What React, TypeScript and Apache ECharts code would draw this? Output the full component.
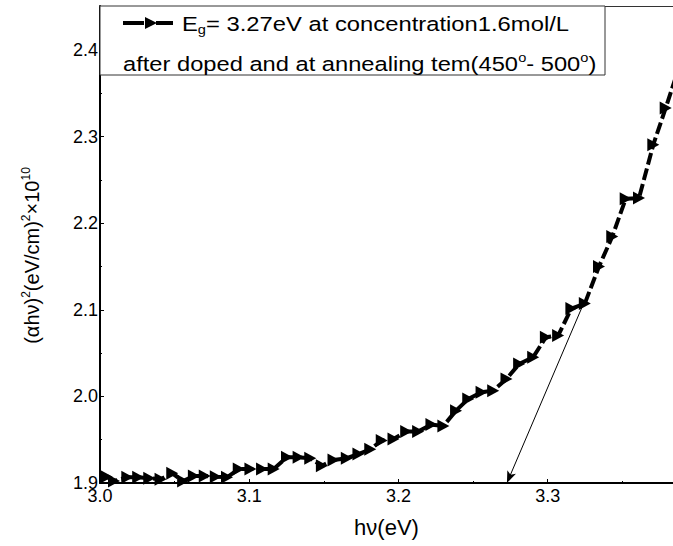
import React, { useEffect, useRef } from "react";
import * as echarts from "echarts";

// photon energy hν (eV)
const hv = [
  3.0045, 3.0094, 3.0183, 3.0256, 3.033, 3.0406, 3.0484, 3.0557, 3.0629, 3.0702,
  3.0776, 3.0851, 3.093, 3.1008, 3.1086, 3.1164, 3.1253, 3.1331, 3.1409, 3.1487,
  3.1565, 3.1654, 3.1732, 3.1811, 3.1888, 3.1967, 3.2052, 3.2132, 3.2221, 3.2301,
  3.2386, 3.2468, 3.2557, 3.2635, 3.2724, 3.2809, 3.2903, 3.2988, 3.307, 3.3159,
  3.3249, 3.3344, 3.3433, 3.3523, 3.3612, 3.3708, 3.3791, 3.3873,
];
// (αhν)^2 ×10^10
const ahv2 = [
  1.9073, 1.9023, 1.9066, 1.9066, 1.9055, 1.9043, 1.9112, 1.9023, 1.9081, 1.9081,
  1.9073, 1.9066, 1.9162, 1.9162, 1.9162, 1.9162, 1.9297, 1.9297, 1.9285, 1.92,
  1.9266, 1.9286, 1.9335, 1.939, 1.9491, 1.9509, 1.9595, 1.9595, 1.9676, 1.9659,
  1.9836, 1.9971, 2.0049, 2.0067, 2.0202, 2.0376, 2.0453, 2.0684, 2.0703, 2.1015,
  2.1073, 2.1501, 2.1847, 2.2283, 2.2291, 2.2908, 2.3332, 2.3763,
];
// tangent arrow (from curve to band-gap intercept)
const arrowStart = [3.3245, 2.109];
const arrowEnd = [3.2727, 1.9];
const bandGap = "3.27";

const FONT = "'Liberation Sans', Arial, sans-serif";

export default function App() {
  const ref = useRef<HTMLDivElement>(null);
  useEffect(() => {
    if (!ref.current) return;
    const chart = echarts.init(ref.current, undefined, { renderer: "svg" });
    const data = hv.map((x, i) => [x, ahv2[i]]);
    const tickFmt = (v: number) =>
      Math.abs(v * 10 - Math.round(v * 10)) < 1e-6 ? v.toFixed(1) : "";
    const supRich = {
      n: { fontSize: 20, fontFamily: FONT, color: "#000", lineHeight: 24 },
      s: { fontSize: 12, fontFamily: FONT, color: "#000", verticalAlign: "top", lineHeight: 24, padding: [0, 0, 8, 0] },
    };
    chart.setOption({
      animation: false,
      backgroundColor: "#fff",
      grid: { left: 100, right: 0, top: 6, bottom: 63, containLabel: false },
      xAxis: [
        {
          type: "value",
          min: 3.0,
          max: 3.384,
          interval: 0.1,
          name: "hν(eV)",
          nameLocation: "middle",
          nameGap: 33,
          nameTextStyle: { fontSize: 22, fontFamily: FONT, color: "#000" },
          axisLine: { show: true, onZero: false, lineStyle: { color: "#000", width: 2 } },
          axisTick: { show: true, inside: true, length: 4, lineStyle: { color: "#000" } },
          minorTick: { show: true, splitNumber: 2, length: 2, lineStyle: { color: "#000" } },
          axisLabel: { formatter: tickFmt, showMaxLabel: false, margin: 4, fontSize: 18, fontFamily: FONT, color: "#000" },
          splitLine: { show: false },
        },
        {
          type: "value",
          position: "top",
          min: 3.0,
          max: 3.384,
          axisLine: { show: true, onZero: false, lineStyle: { color: "#333", width: 1 } },
          axisTick: { show: false },
          axisLabel: { show: false },
          splitLine: { show: false },
        },
      ],
      yAxis: {
        type: "value",
        min: 1.9,
        max: 2.451,
        interval: 0.1,
        name: "{n|(αhν)}{s|2}{n|(eV/cm)}{s|2}{n|×10}{s|10}",
        nameLocation: "middle",
        nameGap: 56,
        nameRotate: 90,
        nameTextStyle: { rich: supRich, fontSize: 20, fontFamily: FONT, color: "#000", padding: [0, 22, 0, 0] },
        axisLine: { show: true, onZero: false, lineStyle: { color: "#000", width: 2 } },
        axisTick: { show: true, inside: true, length: 4, lineStyle: { color: "#000" } },
        minorTick: { show: true, splitNumber: 2, length: 2, lineStyle: { color: "#000" } },
        axisLabel: { formatter: tickFmt, showMaxLabel: false, margin: 2, fontSize: 18, fontFamily: FONT, color: "#000" },
        splitLine: { show: false },
      },
      series: [
        {
          type: "line",
          name: `Eg= ${bandGap}eV`,
          data,
          xAxisIndex: 0,
          symbol: "triangle",
          symbolSize: [13, 12],
          symbolRotate: -90,
          showAllSymbol: true,
          itemStyle: { color: "#000" },
          lineStyle: { color: "#000", width: 4, type: [12, 4] },
          clip: true,
          z: 3,
          markLine: {
            silent: true,
            symbol: ["none", "arrow"],
            symbolSize: [7, 12],
            label: { show: false },
            lineStyle: { color: "#000", width: 1, type: "solid" },
            data: [[{ coord: arrowStart }, { coord: arrowEnd }]],
          },
        },
      ],
      graphic: [
        {
          type: "rect",
          shape: { x: 100, y: 6, width: 505, height: 69 },
          style: { fill: "#fff", stroke: "#333", lineWidth: 1 },
          z: 10,
        },
        {
          type: "line",
          shape: { x1: 123, y1: 23, x2: 144, y2: 23 },
          style: { stroke: "#000", lineWidth: 4 },
          z: 11,
        },
        {
          type: "line",
          shape: { x1: 156, y1: 23, x2: 173, y2: 23 },
          style: { stroke: "#000", lineWidth: 4 },
          z: 11,
        },
        {
          type: "polygon",
          shape: { points: [[145, 17], [157, 23], [145, 29]] },
          style: { fill: "#000" },
          z: 11,
        },
        {
          type: "text",
          x: 182,
          y: 24,
          scaleX: 1.22,
          z: 11,
          style: {
            text: `{n|E}{b|g}{n|= ${bandGap}eV at concentration1.6mol/L}`,
            verticalAlign: "middle",
            align: "left",
            rich: {
              n: { fontSize: 19.5, fontFamily: FONT, fill: "#000", lineHeight: 24 },
              b: { fontSize: 12, fontFamily: FONT, fill: "#000", verticalAlign: "bottom", lineHeight: 24, padding: [10, 0, 0, 0] },
            },
          },
        },
        {
          type: "text",
          x: 123,
          y: 64,
          scaleX: 1.215,
          z: 11,
          style: {
            text: "{n|after doped and at annealing tem(450}{s|o}{n|- 500}{s|o}{n|)}",
            verticalAlign: "middle",
            align: "left",
            rich: {
              n: { fontSize: 19.5, fontFamily: FONT, fill: "#000", lineHeight: 24 },
              s: { fontSize: 12, fontFamily: FONT, fill: "#000", verticalAlign: "top", lineHeight: 24, padding: [0, 0, 8, 0] },
            },
          },
        },
      ],
    });
    return () => chart.dispose();
  }, []);
  return <div ref={ref} style={{ width: 673, height: 546, position: "absolute", left: 0, top: 0 }} />;
}
